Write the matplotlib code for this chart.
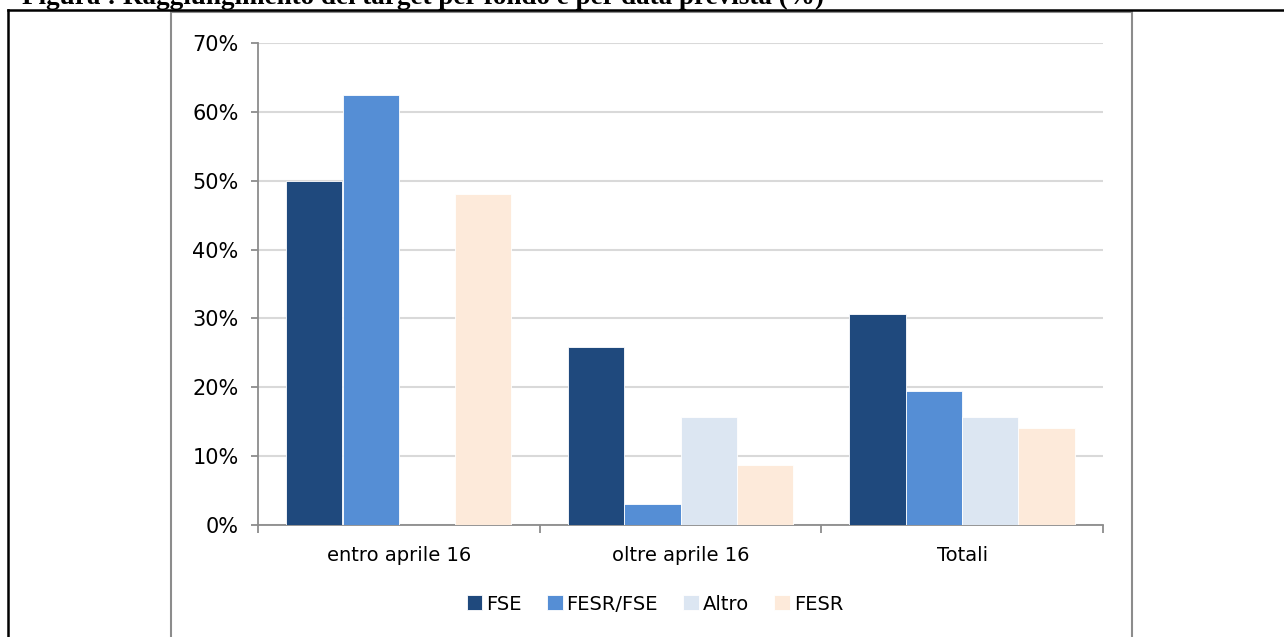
import matplotlib.pyplot as plt
import numpy as np
from matplotlib.lines import Line2D
from matplotlib.patches import Rectangle

categorie = ['entro aprile 16', 'oltre aprile 16', 'Totali']
fondi = ['FSE', 'FESR/FSE', 'Altro', 'FESR']
colori = ['#1F497D', '#558ED5', '#DCE6F2', '#FDEADA']

# quota di target raggiunti (%)
fse = [50.0, 25.9, 30.7]
fesr_fse = [62.5, 3.0, 19.4]
altro = [0.0, 15.7, 15.7]
fesr = [48.1, 8.7, 14.1]
valori = [fse, fesr_fse, altro, fesr]

W, H = 1284, 637
fig = plt.figure(figsize=(W / 100, H / 100), dpi=100)
fig.patch.set_facecolor('white')

# cornice esterna nera e bordo grigio del grafico
fig.add_artist(Line2D([8 / W, 1], [1 - 10 / H, 1 - 10 / H], color='black', lw=1.8))
fig.add_artist(Line2D([8 / W, 8 / W], [0, 1 - 10 / H], color='black', lw=1.8))
fig.add_artist(Rectangle((171 / W, -0.05), (1132 - 171) / W, 1.05 - 12 / H,
                         fill=False, edgecolor='#8C8C8C', lw=1.5))

# titolo (tagliato in alto)
fig.text(22 / W, 1 - 4 / H, 'Figura : Raggiungimento dei target per fondo e per data prevista (%)',
         family='Liberation Serif', weight='bold', fontsize=19.5, va='baseline', ha='left')

ax = fig.add_axes([258 / W, 1 - 525 / H, (1103 - 258) / W, (525 - 43) / H])
x = np.arange(len(categorie))
w = 0.2
for i, (nome, serie) in enumerate(zip(fondi, valori)):
    ax.bar(x + (i - 1.5) * w, serie, w, color=colori[i], label=nome,
           edgecolor='white', linewidth=0.6, zorder=3)

ax.set_xlim(-0.5, 2.5)
ax.set_ylim(0, 70)
ax.set_yticks(np.arange(0, 71, 10))
ax.set_yticklabels([f'{v}%' for v in range(0, 71, 10)], fontsize=15)
ax.yaxis.grid(True, color='#D9D9D9', lw=1.5, zorder=0)

ax.set_xticks(x)
ax.set_xticklabels(categorie, fontsize=14)
ax.tick_params(axis='x', which='major', length=0, pad=15)
ax.set_xticks([-0.5, 0.5, 1.5, 2.5], minor=True)
ax.tick_params(axis='x', which='minor', length=6, color='#8C8C8C', width=1.3, direction='out')
ax.tick_params(axis='y', length=5, color='#8C8C8C', width=1.3, pad=9)

for s in ['top', 'right']:
    ax.spines[s].set_visible(False)
for s in ['left', 'bottom']:
    ax.spines[s].set_color('#8C8C8C')
    ax.spines[s].set_linewidth(1.3)

fig.legend(loc='center', bbox_to_anchor=(655 / W, 1 - 604 / H), ncol=4, frameon=False,
           fontsize=14, handlelength=0.8, handleheight=0.8, handletextpad=0.2,
           columnspacing=1.3)

fig.savefig('out.png', dpi=100)
